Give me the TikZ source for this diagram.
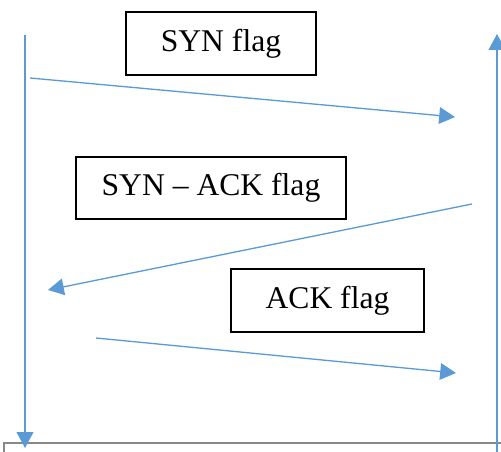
\documentclass[tikz,border=0pt]{standalone}
\usepackage{fontspec}
\setmainfont{Liberation Serif}
\usetikzlibrary{arrows.meta}
\definecolor{msgblue}{RGB}{91,155,213}
\definecolor{framegray}{RGB}{136,136,136}

\begin{document}
\begin{tikzpicture}[x=0.02cm,y=-0.02cm,flag/.style={draw=black,line width=1.1pt,inner sep=0pt,font=\fontsize{18}{20}\selectfont},msg/.style={draw=msgblue,line width=0.75pt,-{Triangle[length=9pt,width=9.5pt]}}]
\useasboundingbox (0,0) rectangle (501,452);
\def\xl{25};
\def\xr{497};

\draw[framegray,line width=1.3pt] (4,454) -- (4,443) -- (503,443);

\coordinate (ltop) at (\xl,35);
\coordinate (lbot) at (\xl,448);
\draw[msg] (ltop) -- (lbot);
\coordinate (rbot) at (\xr,454);
\coordinate (rtop) at (\xr,34);
\draw[msg] (rbot) -- (rtop);

\node[flag,minimum width=190*0.02cm,minimum height=63*0.02cm] (syn) at (221,43.5) {SYN flag};
\node[flag,minimum width=270*0.02cm,minimum height=62*0.02cm] (synack) at (211,188) {SYN -- ACK flag};
\node[flag,minimum width=193*0.02cm,minimum height=63*0.02cm] (ack) at (327.5,300.5) {ACK flag};

\coordinate (s1) at (30,78);
\coordinate (e1) at (455,117);
\draw[msg] (s1) -- (e1);
\coordinate (s2) at (472,204);
\coordinate (e2) at (48,290);
\draw[msg] (s2) -- (e2);
\coordinate (s3) at (96,338);
\coordinate (e3) at (456,373);
\draw[msg] (s3) -- (e3);

\end{tikzpicture}
\end{document}
